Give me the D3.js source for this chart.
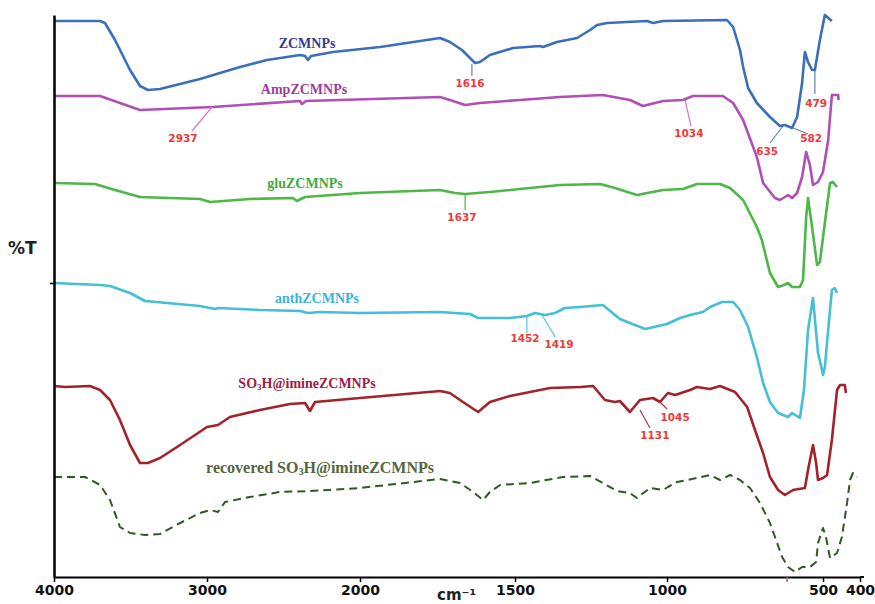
<!DOCTYPE html>
<html>
<head>
<meta charset="utf-8">
<script src="https://cdn.jsdelivr.net/npm/d3@7/dist/d3.min.js"></script>
<style>
  body { margin: 0; background: #fff; }
  svg { display: block; }
</style>
</head>
<body>
<div id="chart"></div>
<script>
  // wavenumber (cm-1), transmittance (arbitrary units, spectra stacked)
  var zcmnps = [[4000,556],[3699,556],[3667,554],[3601,537],[3503,507],[3438,491],[3386,487],[3307,488],
    [3046,498],[2784,510],[2608,517],[2392,522],[2359,521],[2340,517],[2320,521],[2176,525],[1935,530],
    [1742,539],[1710,535],[1671,527],[1629,514],[1613,515],[1581,522],[1506,529],[1418,531],[1408,530],
    [1362,535],[1296,539],[1253,547],[1230,552],[1197,554],[1066,556],[1046,554],[1013,556],[808,557],
    [788,550],[766,527],[756,510],[740,489],[712,474],[670,460],[638,451],[622,452],[599,449],[583,460],
    [567,494],[558,525],[548,515],[535,507],[526,507],[510,537],[495,562],[476,556]];

  var ampZcmnps = [[4000,481],[3699,481],[3569,474],[3438,467],[2960,470],[2392,476],[2379,473],[2353,476],
    [1742,480],[1710,477],[1661,472],[1613,474],[1484,477],[1352,480],[1211,482],[1122,477],[1079,471],
    [1013,476],[949,477],[917,481],[821,481],[788,474],[756,457],[712,420],[692,394],[654,379],[638,377],
    [622,380],[612,382],[599,379],[583,384],[567,400],[554,425],[542,412],[532,392],[516,395],[500,405],
    [486,437],[476,482],[459,482],[458,477]];

  var gluZcmnps = [[4000,394],[3732,393],[3601,387],[3438,380],[3046,378],[2980,375],[2719,378],[2438,379],
    [2412,376],[2359,380],[2000,384],[1742,387],[1694,384],[1661,383],[1581,385],[1484,388],[1352,392],
    [1220,393],[1171,389],[1099,382],[1013,387],[949,388],[904,393],[830,393],[798,389],[756,377],
    [712,350],[696,337],[670,304],[644,290],[625,292],[612,294],[599,290],[574,290],[564,297],[554,360],
    [548,379],[535,350],[519,312],[510,315],[495,354],[481,394],[473,395],[462,390]];

  var anthZcmnps = [[4000,294],[3699,292],[3634,291],[3503,284],[3405,276],[3046,271],[2948,268],[2928,269],
    [2654,267],[2392,266],[2340,264],[2261,265],[2000,264],[1742,265],[1645,263],[1619,259],[1516,259],
    [1461,261],[1434,264],[1401,262],[1368,264],[1336,269],[1286,270],[1211,272],[1155,258],[1072,248],
    [1000,253],[958,259],[926,262],[885,265],[862,270],[824,275],[788,275],[766,267],[740,250],[712,220],
    [692,194],[670,175],[644,164],[612,160],[599,164],[574,159],[561,187],[548,247],[532,279],[516,224],
    [503,207],[500,202],[495,210],[486,247],[476,287],[468,289],[462,284]];

  var so3hZcmnps = [[4000,191],[3928,190],[3765,191],[3699,187],[3634,177],[3569,157],[3503,132],[3438,114],
    [3386,114],[3307,119],[3176,132],[3000,150],[2928,152],[2850,160],[2654,167],[2458,173],[2359,174],
    [2327,166],[2294,175],[2000,179],[1742,186],[1710,184],[1668,175],[1619,165],[1581,175],[1516,181],
    [1467,184],[1385,189],[1286,190],[1243,191],[1204,177],[1171,175],[1155,176],[1122,165],[1089,177],
    [1046,179],[1023,175],[997,184],[974,182],[926,187],[904,190],[862,188],[830,191],[782,185],[743,170],
    [718,147],[692,124],[670,100],[644,87],[622,82],[596,87],[558,89],[548,107],[532,132],[522,114],
    [516,97],[500,99],[489,102],[476,137],[462,187],[454,192],[441,192],[438,184]];

  var recoveredZcmnps = [[4000,100],[3797,100],[3699,92],[3634,77],[3569,50],[3503,44],[3405,42],[3307,43],
    [3176,54],[3046,64],[2980,67],[2928,65],[2882,75],[2719,80],[2523,85],[2327,86],[2000,89],[1742,98],
    [1677,94],[1635,85],[1603,77],[1581,85],[1548,92],[1451,94],[1342,100],[1253,101],[1211,94],[1165,86],
    [1122,84],[1099,79],[1056,89],[1013,87],[997,90],[968,95],[936,97],[904,99],[862,102],[830,97],
    [798,102],[766,97],[734,89],[702,74],[670,54],[647,34],[631,20],[612,10],[590,5],[567,10],[542,10],
    [522,15],[516,34],[500,49],[492,40],[481,19],[462,24],[449,40],[435,74],[427,97],[419,104],[408,100]];

  var seriesNames = ["ZCMNPs", "AmpZCMNPs", "gluZCMNPs", "anthZCMNPs", "SO3H@imineZCMNPs",
    "recovered SO3H@imineZCMNPs"];
  // where each name sits: [wavenumber, transmittance]
  var nameAnchors = [[2346,529],[2366,483],[2359,389],[2281,274],[2346,189],[2261,104]];

  var xTicks = [4000, 3000, 2000, 1500, 1000, 500, 400];

  // peak labels: text, series index, leader from [wn,t] to [wn,t], text at [wn,t]
  var peakLabels = [
    ["1616", 0, [1639,513], [1639,501], [1645,490]],
    ["479",  0, [526,507],  [526,483],  [522,470]],
    ["582",  0, [596,449],  [548,443],  [538,435]],
    ["635",  0, [628,451],  [670,434],  [679,422]],
    ["2937", 1, [2967,470], [3098,446], [3157,435]],
    ["1034", 1, [942,477],  [923,451],  [930,440]],
    ["1637", 2, [1661,383], [1661,367], [1671,356]],
    ["1452", 3, [1461,262], [1461,244], [1467,235]],
    ["1419", 3, [1411,262], [1368,240], [1355,229]],
    ["1131", 4, [1089,167], [1056,149], [1040,138]],
    ["1045", 4, [1023,175], [1000,168], [974,156]]
  ];

  var width = 875, height = 604;

  var svg = d3.select("#chart").append("svg")
      .attr("width", width)
      .attr("height", height);

  // the wavenumber axis is compressed above 2000 cm-1
  var x = d3.scaleLinear()
      .domain([4000, 2000, 1500, 1000, 500, 400])
      .range([54, 360, 515, 667, 823, 860]);

  var y = d3.scaleLinear()
      .domain([0, 562])
      .range([577, 15]);

  var lineColors  = ["#3a6fba", "#b04fb5", "#4db848", "#43bfd6", "#a3232b", "#2f5a24"];
  var nameColors  = ["#343b8c", "#a03c9c", "#46a844", "#3ab4e0", "#a0203c", "#56653f"];
  var leadColors  = ["#5f83b5", "#d47ac8", "#4db848", "#55c3e3", "#9a3a48"];

  var allSeries = [zcmnps, ampZcmnps, gluZcmnps, anthZcmnps, so3hZcmnps, recoveredZcmnps];

  var line = d3.line()
      .x(function(d){ return x(d[0]); })
      .y(function(d){ return y(d[1]); });

  // spectra
  svg.append("g").selectAll("path")
    .data(allSeries)
    .enter()
      .append("path")
      .attr("d", line)
      .attr("fill", "none")
      .attr("stroke", function(d, i){ return lineColors[i]; })
      .attr("stroke-width", function(d, i){ return i === 5 ? 2 : 2.6; })
      .attr("stroke-dasharray", function(d, i){ return i === 5 ? "8,5" : null; })
      .attr("stroke-linejoin", "round");

  // series names, with the subscript 3 in SO3H
  var names = svg.append("g")
      .attr("font-family", "'Liberation Serif', 'Times New Roman', serif")
      .attr("font-weight", "bold")
      .attr("text-anchor", "middle");

  seriesNames.forEach(function(name, i){
    var t = names.append("text")
        .attr("x", x(nameAnchors[i][0]))
        .attr("y", y(nameAnchors[i][1]))
        .attr("fill", nameColors[i])
        .attr("font-size", i === 5 ? 16 : 14);
    var parts = name.split("SO3H");
    if (parts.length === 2) {
      t.append("tspan").text(parts[0] + "SO");
      t.append("tspan").text("3").attr("font-size", "65%").attr("dy", 2);
      t.append("tspan").text("H" + parts[1]).attr("dy", -2);
    } else {
      t.text(name);
    }
  });

  // peak labels and their leader lines
  var peaks = svg.append("g");
  peaks.selectAll("line")
    .data(peakLabels)
    .enter()
      .append("line")
      .attr("x1", function(d){ return x(d[2][0]); })
      .attr("y1", function(d){ return y(d[2][1]); })
      .attr("x2", function(d){ return x(d[3][0]); })
      .attr("y2", function(d){ return y(d[3][1]); })
      .attr("stroke", function(d){ return leadColors[d[1]]; })
      .attr("stroke-width", 1.2);

  peaks.selectAll("text")
    .data(peakLabels)
    .enter()
      .append("text")
      .attr("x", function(d){ return x(d[4][0]); })
      .attr("y", function(d){ return y(d[4][1]); })
      .attr("text-anchor", "middle")
      .attr("font-family", "'DejaVu Sans', Verdana, sans-serif")
      .attr("font-weight", "bold")
      .attr("font-size", 10.5)
      .attr("fill", "#f03a3a")
      .text(function(d){ return d[0]; });

  // axes
  var xAxis = svg.append("g")
      .attr("transform", "translate(0," + y(0) + ")")
      .call(d3.axisBottom(x).tickValues(xTicks).tickFormat(d3.format("d"))
        .tickSize(5).tickSizeOuter(0).tickPadding(3));

  xAxis.select(".domain").attr("stroke-width", 2);
  xAxis.append("line")
      .attr("x1", x(400)).attr("x2", x(400) + 4)
      .attr("stroke", "#000").attr("stroke-width", 2);
  xAxis.selectAll(".tick line").attr("stroke-width", 1.5);
  xAxis.selectAll(".tick text")
      .attr("font-family", "'DejaVu Sans', Verdana, sans-serif")
      .attr("font-weight", "bold")
      .attr("font-size", 14)
      .attr("fill", "#111");

  // faint red mark under the axis at the 635 band
  svg.append("line")
      .attr("x1", x(615)).attr("x2", x(615))
      .attr("y1", y(0)).attr("y2", y(0) + 5)
      .attr("stroke", "#e0506a").attr("stroke-width", 1.5);

  var yAxis = svg.append("g")
      .attr("transform", "translate(" + x(4000) + ",0)")
      .call(d3.axisLeft(y).tickValues([294]).tickSize(4).tickSizeOuter(0).tickFormat(""));
  yAxis.select(".domain").attr("stroke-width", 2.5);
  yAxis.selectAll(".tick line").attr("stroke-width", 1.5);

  // axis titles
  svg.append("text")
      .attr("x", 8)
      .attr("y", 254)
      .attr("font-family", "'DejaVu Sans', Verdana, sans-serif")
      .attr("font-weight", "bold")
      .attr("font-size", 17)
      .attr("fill", "#222")
      .text("%T");

  svg.append("text")
      .attr("x", 437)
      .attr("y", 600)
      .attr("font-family", "'DejaVu Sans', Verdana, sans-serif")
      .attr("font-weight", "bold")
      .attr("font-size", 15)
      .attr("fill", "#222")
      .text("cm⁻¹");
</script>
</body>
</html>
